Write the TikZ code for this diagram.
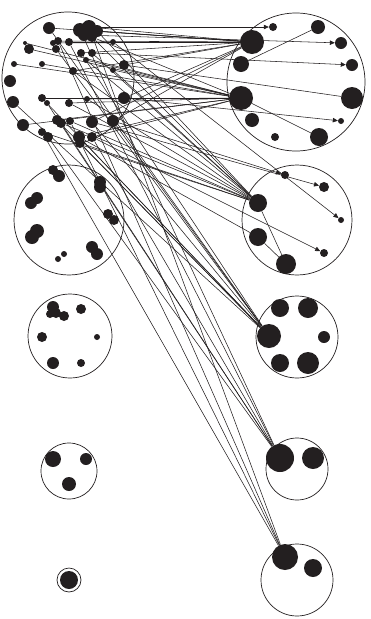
\documentclass[tikz,border=0pt]{standalone}
\usepackage{tikz}
\usetikzlibrary{arrows.meta}
\definecolor{ink}{HTML}{231F20}

\begin{document}
\begin{tikzpicture}[x=1pt,y=-1pt,
  grp/.style={draw=ink,circle,line width=0.7pt,inner sep=0pt},
  dot/.style={fill=ink,circle,inner sep=0pt},
  lk/.style={draw=ink,line width=0.55pt},
  ar/.style={lk,-{Triangle[length=5pt,width=4.5pt]}}]
  \useasboundingbox (0,0) rectangle (370,619);
  % group circles
  \foreach \n/\x/\y/\r in {g1/68/78/66, g2/69/220/55, g3/70/336/42, g4/69/471/28, g5/69/580/12,
      h1/296/82/69, h2/297/220/55, h3/297/337/41, h4/297/469/31, h5/297/580/36}
    \node[grp,minimum size={2*\r pt}] (\n) at (\x,\y) {};
  % dots, left side
  \foreach \n/\x/\y/\r in {c1/80/30/7, c2/89/27/7, c3/97/31/6, c4/92/37/5, c5/84/35/6,
      p1/49/28/6, p2/25/43/2, p3/29/49/5, p4/53/43/3, p5/58/41/4, p6/56/49/4, p7/69/42/4,
      p8/81/53/4, p9/92/53/4, p10/86/60/3, p11/14/64/3, p12/42/64/3, p13/73/71/4,
      p14/124/65/5, p15/113/70/3, p16/113/42/3, p17/10/81/6, p18/13/102/6, p19/42/98/4,
      p20/47/103/3, p21/69/103/4, p22/87/99/3, p23/124/98/6, p24/23/125/6, p25/57/120/5,
      p26/61/123/5, p27/70/121/4, p28/92/122/6, p29/113/121/6, p30/42/132/4, p31/48/137/5,
      p32/79/137/6, p33/80/143/5, p34/92/137/5,
      q1/53/170/5, q2/59/176/6, q3/100/182/6, q4/100/187/6, q5/37/198/6, q6/31/203/6,
      q7/108/214/5, q8/114/220/5, q9/37/231/7, q10/32/237/7, q11/92/247/6, q12/97/254/6,
      q13/64/254/3, q14/58/259/3,
      s1/53/307/6, s2/50/314/4, s3/56/313/5, s4/64/316/5, s5/81/309/5, s6/42/337/5,
      s7/97/337/3, s8/53/363/6, s9/81/363/4,
      t1/53/459/8, t2/86/459/6, t3/69/484/7, u1/69/580/9}
    \node[dot,minimum size={2*\r pt}] (\n) at (\x,\y) {};
  % dots, right side
  \foreach \n/\x/\y/\r in {r1a/252/42/12, r1b/241/98/12, r1c/273/27/4, r1d/318/27/7,
      r1e/341/43/6, r1f/241/64/8, r1g/352/65/6, r1h/352/98/11, r1i/252/120/7,
      r1j/341/121/3, r1k/275/137/4, r1l/319/137/9,
      r2a/285/175/4, r2b/324/187/5, r2c/258/203/9, r2d/341/220/3, r2g/258/237/9,
      r2e/324/253/4, r2f/286/264/10,
      r3a/280/308/9, r3b/308/308/10, r3c/269/336/12, r3d/324/337/6, r3e/280/363/9,
      r3f/308/363/11, r4a/280/458/14, r4b/313/458/11, r5a/285/557/13, r5b/313/568/9}
    \node[dot,minimum size={2*\r pt}] (\n) at (\x,\y) {};
  % links
  \foreach \s in {c1,c2,c3,p1,p4,p5,p7,p8,p13,p14,p16,p23,p28,p29}
    \draw[lk] (\s) -- (r1a);
  \foreach \s in {c4,p2,p3,p10,p11,p12,p15,p19,p21,p22,p24,p25,p32,p34}
    \draw[lk] (\s) -- (r1b);
  \foreach \s in {c3,c4,p9,p10,p13,p15,p21,p22,p26,p27,p30,p33}
    \draw[lk] (\s) -- (r2c);
  \foreach \s in {p1,p6,p8,p18,p19,p25,p28,p29,p32,p33}
    \draw[lk] (\s) -- (r3c);
  \foreach \s in {c1,p7,p20,p26,p31,p34}
    \draw[lk] (\s) -- (r4a);
  \foreach \s in {c2,p5,p27,p30}
    \draw[lk] (\s) -- (r5a);
  \draw[ar] (c2) -- (r1c);
  \draw[ar] (c5) -- (r1e);
  \draw[ar] (p9) -- (r1g);
  \draw[ar] (p23) -- (r1j);
  \draw[lk] (p14) -- (r1h);
  \draw[lk] (r1d) -- (r1f);
  \draw[lk] (r1b) -- (r1l);
  \draw[ar] (p29) -- (r2a);
  \draw[ar] (p28) -- (r2b);
  \draw[ar] (p16) -- (r2d);
  \draw[ar] (p34) -- (r2e);
  \draw[lk] (p32) -- (r2g);
  \draw[lk] (r2c) -- (r2f);
  \draw[lk] (r2g) -- (r2f);
\end{tikzpicture}
\end{document}
